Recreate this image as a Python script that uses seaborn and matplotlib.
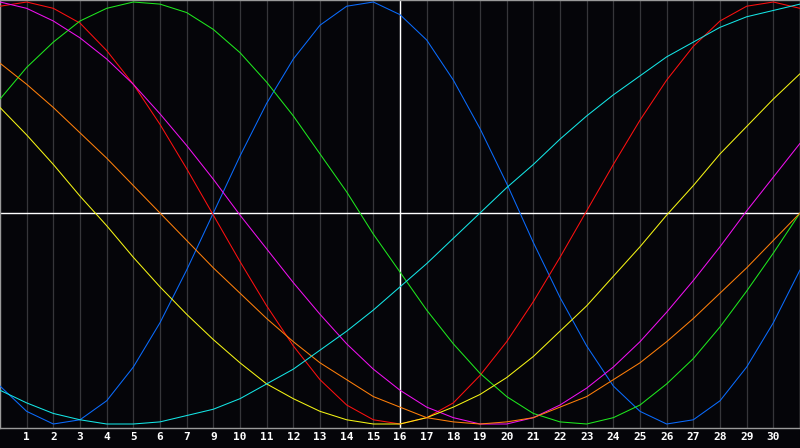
"""
Biorhythm chart - seven cycles over one month, dark screen style.
"""

import pandas as pd
import matplotlib
matplotlib.use("Agg")
import matplotlib.pyplot as plt
import seaborn as sns

# day offsets across the month (0 = left edge)
days = list(range(31))

# cycle values in percent
physical = [-82, -94, -100, -98, -89, -73, -52, -27, 0, 27, 52, 73, 89, 98, 100, 94,
            82, 63, 40, 14, -14, -40, -63, -82, -94, -100, -98, -89, -73, -52, -27]
emotional = [98, 100, 97, 90, 77, 61, 42, 21, -1, -23, -44, -63, -79, -91, -98, -100,
             -97, -90, -77, -61, -42, -21, 1, 23, 44, 63, 79, 91, 98, 100, 97]
intellectual = [54, 69, 81, 91, 97, 100, 99, 95, 87, 76, 62, 46, 28, 10, -10, -28,
                -46, -62, -76, -87, -95, -99, -100, -97, -91, -81, -69, -54, -37, -19, 0]
intuitive = [100, 97, 91, 83, 73, 61, 47, 32, 16, -1, -17, -33, -48, -62, -74, -84,
             -92, -97, -100, -100, -97, -91, -83, -73, -61, -47, -32, -16, 1, 17, 33]
aesthetic = [50, 37, 23, 8, -6, -21, -35, -48, -60, -71, -81, -88, -94, -98, -100, -100,
             -97, -92, -86, -78, -68, -56, -44, -30, -16, -1, 13, 28, 41, 54, 66]
awareness = [71, 61, 50, 38, 26, 13, 0, -13, -26, -38, -50, -61, -71, -79, -87, -92,
             -97, -99, -100, -99, -97, -92, -87, -79, -71, -61, -50, -38, -26, -13, 0]
spiritual = [-84, -90, -95, -98, -100, -100, -99, -96, -93, -88, -81, -74, -65, -56, -46, -35,
             -24, -12, 0, 12, 23, 35, 46, 56, 65, 74, 81, 88, 93, 96, 99]

# tick positions and their labels (the source skips "8")
tick_pos = list(range(1, 30))
tick_labels = ['1', '2', '3', '4', '5', '6', '7', '9', '10', '11', '12', '13', '14', '15',
               '16', '17', '18', '19', '20', '21', '22', '23', '24', '25', '26', '27',
               '28', '29', '30']

series = {
    'physical': physical,
    'emotional': emotional,
    'intellectual': intellectual,
    'intuitive': intuitive,
    'aesthetic': aesthetic,
    'awareness': awareness,
    'spiritual': spiritual,
}
colors = {
    'physical': '#0a6cff',
    'emotional': '#ff1010',
    'intellectual': '#1ee81e',
    'intuitive': '#f010f0',
    'aesthetic': '#f5f514',
    'awareness': '#ff7f0a',
    'spiritual': '#14e6e6',
}

df = pd.DataFrame([
    {'day': d, 'value': v, 'cycle': name}
    for name, vals in series.items()
    for d, v in zip(days, vals)
])

bg = '#050509'
sns.set_style('dark', {'axes.facecolor': bg, 'figure.facecolor': bg})

fig = plt.figure(figsize=(8, 4.48), dpi=100)
ax = fig.add_axes([0, 20 / 448, 1, 428 / 448])
ax.set_facecolor(bg)

# day grid
for x in tick_pos:
    ax.axvline(x, color='#36363a', lw=0.9, zorder=1)

sns.lineplot(data=df, x='day', y='value', hue='cycle', palette=colors,
             hue_order=list(series.keys()), linewidth=0.75, legend=False,
             ax=ax, zorder=3)

# centre cross
ax.axhline(0, color='white', lw=1.0, zorder=2)
ax.axvline(15, color='white', lw=1.0, zorder=2)

ax.set_xlim(0, 30)
ax.set_ylim(-100 - 4 * 200 / 422, 100 + 2 * 200 / 422)
ax.set_xticks(tick_pos)
ax.set_xticklabels(tick_labels, fontfamily='DejaVu Sans Mono', fontweight='bold',
                   fontsize=8, color='white')
ax.tick_params(axis='x', length=0, pad=3)
ax.set_yticks([])
ax.set_xlabel('')
ax.set_ylabel('')
for side, sp in ax.spines.items():
    sp.set_visible(True)
    sp.set_color('#9a9a9a')
    sp.set_linewidth(1.0)

fig.savefig('out.png', dpi=100, facecolor=bg)
